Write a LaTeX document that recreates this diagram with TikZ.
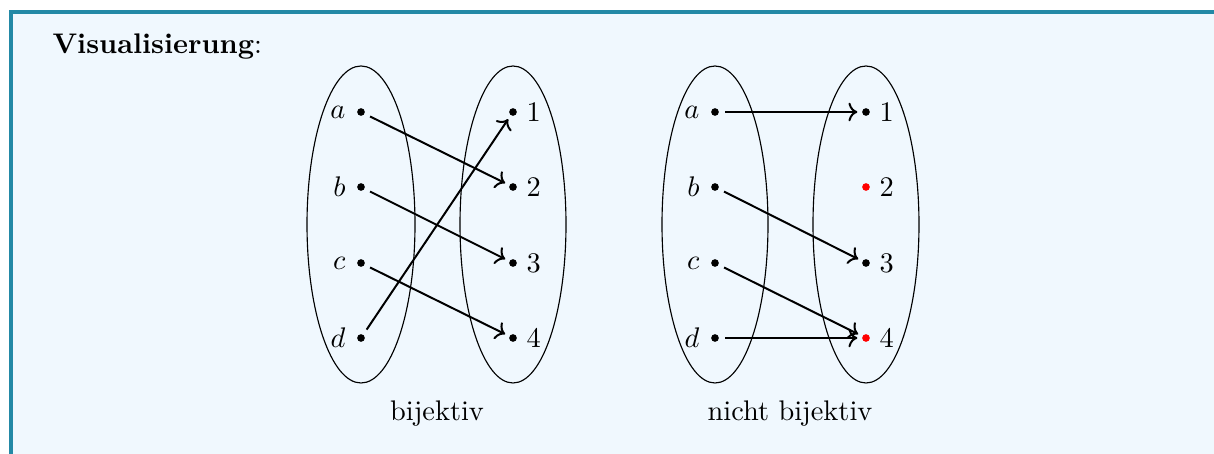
\documentclass[tikz,border=0pt]{standalone}
\usetikzlibrary{arrows.meta}
\definecolor{boxbg}{RGB}{240,248,254}
\definecolor{boxframe}{RGB}{35,137,166}
\begin{document}
\begin{tikzpicture}[x=0.3525pt,y=-0.3525pt,
  pt/.style={circle,fill=black,inner sep=0pt,minimum size=2.7pt},
  redpt/.style={circle,fill=red,inner sep=0pt,minimum size=2.7pt},
  lab/.style={inner sep=0pt},
  maparrow/.style={->,line width=0.7pt,shorten <=2pt,shorten >=1.5pt}]
\useasboundingbox (0,0) rectangle (1214,454);
% box
\fill[boxbg] (9,10) rectangle (1214,454);
\fill[boxframe] (9,10) rectangle (1214,14);
\fill[boxframe] (9,10) rectangle (13,454);
\node[lab,anchor=base west] (title) at (52,54) {\textbf{Visualisierung}:};

% ---------- bijektiv ----------
\draw[thin] (361,224.5) ellipse [x radius=54,y radius=158.5];
\draw[thin] (513,224.5) ellipse [x radius=53,y radius=158.5];
\foreach \n/\y in {a/112,b/187,c/263,d/338}{
  \node[pt] (L\n) at (361,\y) {};
  \node[lab,anchor=east] (LT\n) at (346,\y) {$\n$};
}
\foreach \n/\y in {1/112,2/187,3/263,4/338}{
  \node[pt] (R\n) at (513,\y) {};
  \node[lab,anchor=west] (RT\n) at (526,\y) {$\n$};
}
\draw[maparrow] (La) -- (R2);
\draw[maparrow] (Lb) -- (R3);
\draw[maparrow] (Lc) -- (R4);
\draw[maparrow] (Ld) -- (R1);
\node[lab,anchor=base] (cap1) at (437,421) {bijektiv};

% ---------- nicht bijektiv ----------
\draw[thin] (715,224.5) ellipse [x radius=53,y radius=158.5];
\draw[thin] (866,224.5) ellipse [x radius=53,y radius=158.5];
\foreach \n/\y in {a/112,b/187,c/263,d/338}{
  \node[pt] (M\n) at (715,\y) {};
  \node[lab,anchor=east] (MT\n) at (700,\y) {$\n$};
}
\node[pt] (S1) at (866,112) {};
\node[redpt] (S2) at (866,187) {};
\node[pt] (S3) at (866,263) {};
\node[redpt] (S4) at (866,338) {};
\foreach \n/\y in {1/112,2/187,3/263,4/338}{
  \node[lab,anchor=west] (ST\n) at (879,\y) {$\n$};
}
\draw[maparrow] (Ma) -- (S1);
\draw[maparrow] (Mb) -- (S3);
\draw[maparrow] (Mc) -- (S4);
\draw[maparrow] (Md) -- (S4);
\node[lab,anchor=base] (cap2) at (790,421) {nicht bijektiv};
\end{tikzpicture}
\end{document}
